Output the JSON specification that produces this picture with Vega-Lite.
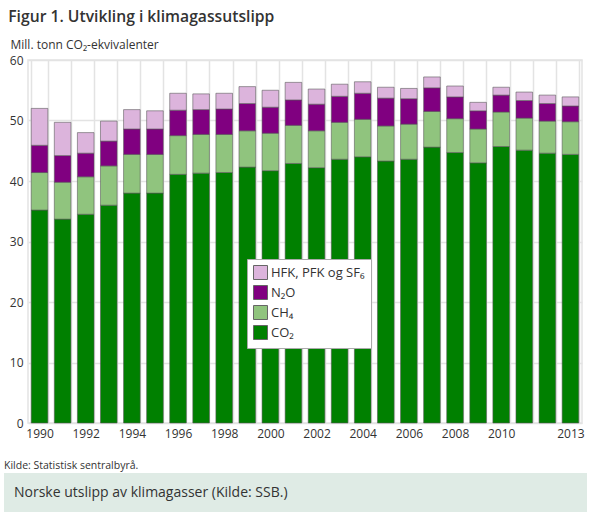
{
  "$schema": "https://vega.github.io/schema/vega-lite/v6.json",
  "background": "white",
  "padding": {"left": 3, "top": 8, "right": 2, "bottom": 5},
  "config": {"font": "Open Sans", "view": {"stroke": null}, "concat": {"spacing": 0}},
  "title": {"text": "Figur 1. Utvikling i klimagassutslipp", "anchor": "start", "fontSize": 15.7, "fontWeight": 600, "color": "#333333", "dx": 5, "offset": 12},
  "columns": 1,
  "align": "none",
  "concat": [
    {
      "width": 554,
      "height": 363,
      "view": {"stroke": "#e3e3e3", "strokeWidth": 1.5},
      "title": {"text": "Kilde: Statistisk sentralbyrå.", "orient": "bottom", "anchor": "start", "frame": "group", "dx": -24, "fontSize": 10.5, "fontWeight": "normal", "color": "#333333", "offset": 22},
      "data": {"values": [
        {"year": 1990, "co2": 35.2, "ch4": 6.2, "n2o": 4.5, "hfk": 6.1},
        {"year": 1991, "co2": 33.7, "ch4": 6.1, "n2o": 4.4, "hfk": 5.5},
        {"year": 1992, "co2": 34.5, "ch4": 6.2, "n2o": 3.9, "hfk": 3.4},
        {"year": 1993, "co2": 36.0, "ch4": 6.5, "n2o": 4.1, "hfk": 3.3},
        {"year": 1994, "co2": 38.0, "ch4": 6.4, "n2o": 4.2, "hfk": 3.2},
        {"year": 1995, "co2": 38.0, "ch4": 6.4, "n2o": 4.2, "hfk": 3.0},
        {"year": 1996, "co2": 41.1, "ch4": 6.4, "n2o": 4.2, "hfk": 2.8},
        {"year": 1997, "co2": 41.3, "ch4": 6.4, "n2o": 4.1, "hfk": 2.6},
        {"year": 1998, "co2": 41.4, "ch4": 6.3, "n2o": 4.2, "hfk": 2.6},
        {"year": 1999, "co2": 42.3, "ch4": 6.0, "n2o": 4.5, "hfk": 2.8},
        {"year": 2000, "co2": 41.7, "ch4": 6.2, "n2o": 4.3, "hfk": 2.8},
        {"year": 2001, "co2": 42.9, "ch4": 6.3, "n2o": 4.2, "hfk": 2.9},
        {"year": 2002, "co2": 42.2, "ch4": 6.1, "n2o": 4.4, "hfk": 2.5},
        {"year": 2003, "co2": 43.6, "ch4": 6.1, "n2o": 4.3, "hfk": 2.0},
        {"year": 2004, "co2": 44.0, "ch4": 6.2, "n2o": 4.3, "hfk": 1.9},
        {"year": 2005, "co2": 43.3, "ch4": 5.8, "n2o": 4.6, "hfk": 1.8},
        {"year": 2006, "co2": 43.6, "ch4": 5.8, "n2o": 4.2, "hfk": 1.7},
        {"year": 2007, "co2": 45.6, "ch4": 5.9, "n2o": 3.9, "hfk": 1.8},
        {"year": 2008, "co2": 44.7, "ch4": 5.6, "n2o": 3.6, "hfk": 1.8},
        {"year": 2009, "co2": 43.0, "ch4": 5.6, "n2o": 3.0, "hfk": 1.4},
        {"year": 2010, "co2": 45.7, "ch4": 5.7, "n2o": 2.8, "hfk": 1.3},
        {"year": 2011, "co2": 45.1, "ch4": 5.3, "n2o": 2.9, "hfk": 1.4},
        {"year": 2012, "co2": 44.6, "ch4": 5.3, "n2o": 2.9, "hfk": 1.4},
        {"year": 2013, "co2": 44.4, "ch4": 5.4, "n2o": 2.6, "hfk": 1.5}
      ]},
      "transform": [
        {"fold": ["co2", "ch4", "n2o", "hfk"], "as": ["gas", "value"]},
        {"calculate": "indexof(['co2','ch4','n2o','hfk'], datum.gas)", "as": "ord"}
      ],
      "mark": {"type": "bar", "stroke": "#555555", "strokeWidth": 0.8, "strokeOpacity": 0.7},
      "encoding": {
        "x": {
          "field": "year", "type": "ordinal",
          "scale": {"paddingInner": 0.28, "paddingOuter": 0.14},
          "axis": {
            "title": null, "tickBand": "extent", "ticks": false, "domain": false,
            "grid": true, "gridColor": "#e3e3e3", "gridWidth": 1.5,
            "labelAngle": 0, "labelFontSize": 12, "labelColor": "#333333", "labelPadding": 5,
            "labelOverlap": false,
            "labelExpr": "indexof([1990,1992,1994,1996,1998,2000,2002,2004,2006,2008,2010,2013], datum.value) >= 0 ? datum.value : ''"
          }
        },
        "y": {
          "field": "value", "type": "quantitative", "stack": "zero",
          "scale": {"domain": [0, 60]},
          "axis": {
            "title": "Mill. tonn CO₂-ekvivalenter", "titleAngle": 0, "titleAlign": "left", "titleBaseline": "middle",
            "titleX": -18, "titleY": -16, "titleFontSize": 12, "titleFontWeight": "normal", "titleColor": "#333333",
            "values": [0, 10, 20, 30, 40, 50, 60], "ticks": false, "domain": false,
            "gridColor": "#e3e3e3", "gridWidth": 1.5,
            "labelFontSize": 12, "labelColor": "#333333", "labelPadding": 5
          }
        },
        "color": {
          "field": "gas", "type": "nominal",
          "scale": {"domain": ["hfk", "n2o", "ch4", "co2"], "range": ["#dcb4dc", "#800080", "#90c47e", "#008000"]},
          "legend": {
            "title": null, "orient": "none", "legendX": 219, "legendY": 199,
            "fillColor": "white", "strokeColor": "#aaaaaa", "padding": 6,
            "symbolType": "square", "symbolSize": 196, "symbolStrokeColor": "#666666", "symbolStrokeWidth": 1, "symbolOpacity": 1,
            "labelFontSize": 13, "labelColor": "#333333", "labelOffset": 3, "rowPadding": 1,
            "labelExpr": "{'hfk': 'HFK, PFK og SF₆', 'n2o': 'N₂O', 'ch4': 'CH₄', 'co2': 'CO₂'}[datum.value]"
          }
        },
        "order": {"field": "ord", "type": "quantitative"}
      }
    },
    {
      "width": 559,
      "height": 39,
      "data": {"values": [{"t": "Norske utslipp av klimagasser (Kilde: SSB.)"}]},
      "layer": [
        {
          "mark": {"type": "rect", "color": "#dfebe5", "clip": false},
          "encoding": {
            "x": {"datum": -24, "type": "quantitative", "scale": {"domain": [0, 559], "nice": false, "zero": false}, "axis": null},
            "x2": {"datum": 559},
            "y": {"datum": 0, "type": "quantitative", "scale": {"domain": [0, 1], "nice": false}, "axis": null},
            "y2": {"datum": 1}
          }
        },
        {
          "mark": {"type": "text", "align": "left", "baseline": "middle", "dx": 10, "fontSize": 14, "color": "#333333"},
          "encoding": {
            "text": {"field": "t"},
            "x": {"datum": -24, "type": "quantitative"},
            "y": {"datum": 0.5, "type": "quantitative"}
          }
        }
      ]
    }
  ]
}
